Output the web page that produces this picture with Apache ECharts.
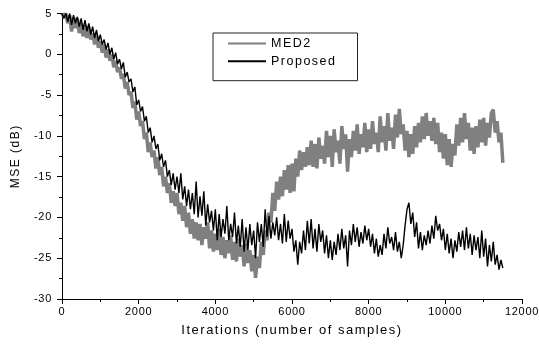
<!DOCTYPE html>
<html><head><meta charset="utf-8">
<script src="https://cdn.jsdelivr.net/npm/echarts@6/dist/echarts.min.js"></script>
<style>html,body{margin:0;padding:0;background:#fff}#chart{width:539px;height:345px}</style>
</head><body><div id="chart"></div>
<script>
// sample spacing of the transcribed curves (iterations)
const STEP = 50;
const seriesNames = ['MED2', 'Proposed'];
const xTickValues = [0, 2000, 4000, 6000, 8000, 10000, 12000];
const yTickValues = [-30, -25, -20, -15, -10, -5, 0, 5];

const med2 = [
  5, 4.6, 5, 3.8, 4.8, 2.8, 4.5, 3.2, 4.4, 2.6,
  3.8, 2.2, 3.6, 2.0, 3.4, 1.8, 2.6, 1.2, 2.4, 0.8,
  1.6, 0.2, 1.2, -0.4, 0.6, -0.8, 0.0, -1.6, -0.8, -2.2,
  -1.6, -3.0, -2.4, -4.2, -3.4, -5.0, -4.6, -6.6, -5.8, -8.0,
  -7.0, -8.8, -8.2, -10.4, -9.6, -12.0, -10.8, -12.6, -11.8, -14.0,
  -12.6, -14.8, -13.8, -16.2, -15.0, -17.0, -15.8, -18.2, -16.8, -18.6,
  -17.0, -19.6, -18.2, -20.4, -18.6, -21.2, -19.4, -22.0, -20.2, -22.6,
  -20.6, -22.8, -20.8, -23.4, -21.2, -22.6, -20.6, -23.8, -21.6, -24.2,
  -22.0, -24.0, -21.4, -24.6, -22.4, -25.0, -22.8, -24.4, -22.2, -25.2,
  -23.0, -25.4, -22.6, -24.8, -23.4, -26.0, -23.2, -25.6, -24.0, -26.6,
  -24.6, -27.4, -24.8, -26.2, -23.0, -24.6, -21.6, -22.8, -19.4, -20.6,
  -17.0, -19.2, -15.6, -17.8, -15.0, -17.4, -14.2, -16.6, -13.6, -17.0,
  -13.4, -16.8, -12.8, -15.0, -11.8, -14.2, -12.0, -13.8, -11.4, -13.6,
  -10.6, -13.8, -11.0, -14.0, -10.2, -12.8, -11.2, -13.4, -9.4, -12.6,
  -10.0, -13.8, -9.2, -12.0, -10.6, -13.4, -8.8, -11.6, -9.8, -14.4,
  -10.4, -12.6, -9.4, -11.8, -8.6, -12.2, -9.8, -11.4, -8.4, -12.0,
  -9.2, -11.6, -8.2, -11.0, -9.6, -12.0, -7.6, -10.8, -8.8, -11.8,
  -7.2, -10.6, -9.0, -11.6, -7.4, -10.2, -6.7, -9.8, -8.6, -11.8,
  -9.4, -12.6, -9.8, -12.2, -8.8, -11.4, -8.4, -10.8, -7.6, -10.4,
  -7.2, -10.0, -8.2, -10.6, -7.8, -11.0, -8.4, -12.0, -9.6, -12.8,
  -9.8, -13.6, -10.4, -13.8, -11.0, -12.4, -8.6, -11.2, -7.8, -10.8,
  -7.2, -10.4, -8.4, -11.8, -9.0, -12.2, -8.8, -11.4, -8.0, -10.8,
  -7.8, -11.2, -8.4, -10.2, -7.2, -6.8, -9.6, -8.2, -10.8, -9.6,
  -13.3
];

const proposed = [
  5, 4.4, 5, 4.0, 5, 3.6, 4.8, 3.8, 4.6, 3.4,
  4.4, 3.0, 4.2, 2.8, 3.8, 2.4, 3.4, 2.0, 3.0, 1.6,
  2.4, 1.2, 1.8, 0.6, 1.4, 0.0, 0.8, -0.6, 0.2, -1.2,
  -0.6, -1.8, -1.0, -2.8, -2.2, -3.4, -3.0, -4.6, -4.0, -6.2,
  -5.6, -7.0, -6.4, -8.2, -7.6, -9.6, -9.0, -10.8, -10.0, -11.6,
  -11.0, -13.0, -12.2, -13.8, -13.0, -15.0, -14.2, -16.0, -14.6, -16.6,
  -15.0, -17.0, -14.6, -17.8, -16.2, -18.6, -16.6, -19.0, -17.0, -19.6,
  -15.6, -20.0, -17.4, -19.8, -16.8, -21.0, -18.4, -20.6, -19.2, -21.6,
  -19.0, -22.8, -19.6, -22.4, -20.2, -22.0, -18.6, -22.8, -20.8, -22.4,
  -19.4, -23.2, -21.0, -23.6, -20.2, -24.2, -21.2, -24.0, -20.8, -23.4,
  -21.6, -25.0, -20.6, -23.0, -20.8, -23.6, -19.0, -22.4, -19.8, -22.6,
  -20.6, -22.2, -20.0, -22.8, -20.8, -23.2, -19.6, -23.0, -20.4, -22.6,
  -21.4, -24.2, -22.8, -25.8, -23.0, -24.4, -21.6, -24.0, -20.4, -23.2,
  -20.2, -23.8, -21.4, -24.2, -20.8, -23.0, -21.6, -24.4, -22.2, -25.0,
  -22.8, -25.2, -23.0, -24.6, -22.0, -24.0, -21.4, -23.8, -22.2, -26.0,
  -21.6, -23.4, -20.8, -23.0, -21.2, -23.6, -21.8, -23.2, -21.0, -22.8,
  -21.4, -23.6, -22.0, -24.4, -22.6, -24.8, -23.4, -24.6, -22.0, -23.8,
  -21.2, -23.2, -22.4, -24.0, -21.8, -24.2, -23.0, -25.0, -23.4, -21.0,
  -19.0, -18.2, -20.8, -19.4, -22.4, -20.6, -23.8, -21.8, -24.0, -22.2,
  -23.4, -21.6, -23.2, -21.0, -22.6, -19.8, -21.6, -20.8, -22.8, -21.4,
  -24.0, -22.0, -24.4, -22.6, -25.0, -22.8, -24.2, -21.8, -23.6, -21.6,
  -24.0, -21.2, -23.8, -22.0, -24.6, -22.2, -24.0, -22.4, -25.0, -21.6,
  -24.8, -22.6, -26.0, -23.4, -25.4, -23.0, -25.8, -24.6, -26.4, -25.2,
  -26.2
];

// letter-spacing like the original export (applied at draw time, text stays text)
(function () {
  const P = CanvasRenderingContext2D.prototype;
  const orig = P.fillText;
  P.fillText = function (text, x, y, w) {
    const s = String(text).trim();
    const ls = /^-?\d+$/.test(s) ? '0.7px' : '1.5px';
    if ('letterSpacing' in this) this.letterSpacing = ls;
    const r = w === undefined ? orig.call(this, text, x, y) : orig.call(this, text, x, y, w);
    if ('letterSpacing' in this) this.letterSpacing = '0px';
    return r;
  };
})();

const toPairs = arr => arr.map((v, i) => [i * STEP, v]);
const FONT = 'Liberation Sans, Arial, Helvetica, sans-serif';

const chart = echarts.init(document.getElementById('chart'));
chart.setOption({
  animation: false,
  backgroundColor: '#fff',
  textStyle: {fontFamily: FONT},
  grid: {left: 62, right: 17, top: 13.5, bottom: 46, outerBoundsMode: 'none'},
  legend: {
    data: seriesNames,
    orient: 'vertical',
    left: 213, top: 33,
    padding: [4, 33, 13, 14],
    itemWidth: 38, itemHeight: 14, itemGap: 4.7,
    borderColor: '#222', borderWidth: 1,
    itemStyle: {opacity: 0},
    textStyle: {fontSize: 12.5, color: '#000', fontFamily: FONT}
  },
  xAxis: {
    type: 'value', min: xTickValues[0], max: xTickValues[xTickValues.length - 1], interval: 2000,
    name: 'Iterations (number of samples)', nameLocation: 'middle', nameGap: 25,
    nameTextStyle: {fontSize: 13, color: '#000', fontFamily: FONT},
    axisLine: {show: true, onZero: false, lineStyle: {color: '#000', width: 1}},
    axisTick: {show: true, inside: false, length: 5, lineStyle: {color: '#000'}},
    minorTick: {show: true, splitNumber: 2, length: 3, lineStyle: {color: '#000'}},
    splitLine: {show: false},
    axisLabel: {fontSize: 11, color: '#000', margin: 7, fontFamily: FONT, formatter: v => String(v)}
  },
  yAxis: {
    type: 'value', min: yTickValues[0], max: yTickValues[yTickValues.length - 1], interval: 5,
    name: 'MSE (dB)', nameLocation: 'middle', nameGap: 40,
    nameTextStyle: {fontSize: 12, color: '#000', fontFamily: FONT},
    axisLine: {show: true, onZero: false, lineStyle: {color: '#000', width: 1}},
    axisTick: {show: true, inside: false, length: 5, lineStyle: {color: '#000'}},
    minorTick: {show: true, splitNumber: 2, length: 3, lineStyle: {color: '#000'}},
    splitLine: {show: false},
    axisLabel: {fontSize: 11, color: '#000', margin: 10, fontFamily: FONT, formatter: v => String(v)}
  },
  series: [
    {name: seriesNames[0], type: 'line', data: toPairs(med2), symbol: 'none', showSymbol: false,
     clip: true, lineStyle: {color: '#808080', width: 3.5}, itemStyle: {color: '#808080'}, z: 2},
    {name: seriesNames[1], type: 'line', data: toPairs(proposed), symbol: 'none', showSymbol: false,
     clip: true, lineStyle: {color: '#000', width: 1.4}, itemStyle: {color: '#000'}, z: 3}
  ]
});
</script>
</body></html>
